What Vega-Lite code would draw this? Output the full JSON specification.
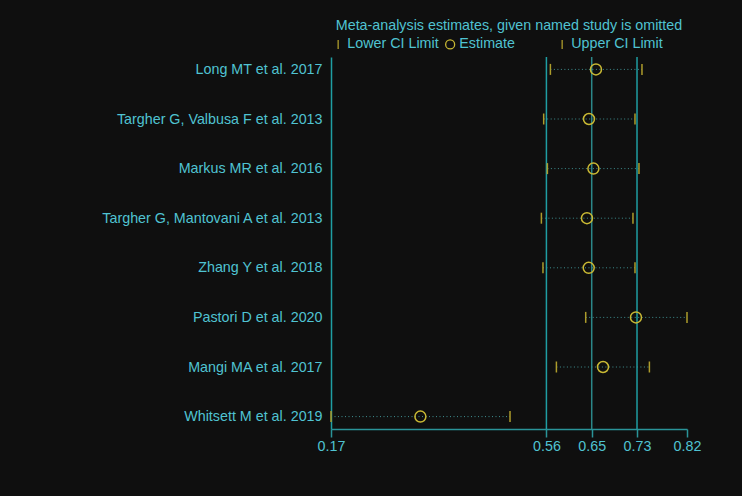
{
  "$schema": "https://vega.github.io/schema/vega-lite/v6.json",
  "width": 356,
  "height": 372,
  "autosize": {"type": "none"},
  "padding": {"left": 331, "top": 57, "right": 55, "bottom": 67},
  "background": "#0f0f0f",
  "title": {
    "text": "Meta-analysis estimates, given named study is omitted",
    "anchor": "middle",
    "frame": "group",
    "fontSize": 14.3,
    "fontWeight": "normal",
    "font": "Liberation Sans",
    "color": "#50c3d2",
    "offset": 4
  },
  "config": {
    "view": {"stroke": null},
    "font": "Liberation Sans"
  },
  "datasets": {
    "studies": [
      {"study": "Long MT et al. 2017", "lo": 0.5713, "est": 0.6548, "hi": 0.7391},
      {"study": "Targher G, Valbusa F et al. 2013", "lo": 0.5590, "est": 0.6420, "hi": 0.7263},
      {"study": "Markus MR et al. 2016", "lo": 0.5658, "est": 0.6501, "hi": 0.7336},
      {"study": "Targher G, Mantovani A et al. 2013", "lo": 0.5548, "est": 0.6383, "hi": 0.7226},
      {"study": "Zhang Y et al. 2018", "lo": 0.5577, "est": 0.6415, "hi": 0.7263},
      {"study": "Pastori D et al. 2020", "lo": 0.6360, "est": 0.7281, "hi": 0.8216},
      {"study": "Mangi MA et al. 2017", "lo": 0.5823, "est": 0.6677, "hi": 0.7527},
      {"study": "Whitsett M et al. 2019", "lo": 0.1693, "est": 0.3331, "hi": 0.4973}
    ],
    "refs": [
      {"v": 0.564, "kind": "limit"},
      {"v": 0.647, "kind": "estimate"},
      {"v": 0.730, "kind": "limit"}
    ]
  },
  "layer": [
    {
      "data": {"name": "refs"},
      "mark": {"type": "rule", "strokeWidth": 1.5},
      "encoding": {
        "x": {"field": "v", "type": "quantitative"},
        "stroke": {
          "condition": {"test": "datum.kind == 'estimate'", "value": "#2b8789"},
          "value": "#1f9ea3"
        }
      }
    },
    {
      "data": {"name": "studies"},
      "mark": {"type": "rule", "strokeWidth": 1, "strokeDash": [1, 2.5], "color": "#3f8f90"},
      "encoding": {
        "y": {"field": "study", "type": "nominal"},
        "x": {"field": "lo", "type": "quantitative"},
        "x2": {"field": "hi"}
      }
    },
    {
      "data": {"name": "studies"},
      "transform": [{"fold": ["lo", "est", "hi"], "as": ["series", "value"]}],
      "mark": {"type": "point", "filled": false, "size": 121, "strokeWidth": 1.5, "opacity": 1},
      "encoding": {
        "y": {"field": "study", "type": "nominal"},
        "x": {"field": "value", "type": "quantitative"},
        "shape": {
          "field": "series",
          "type": "nominal",
          "scale": {"domain": ["lo", "est", "hi"], "range": ["M0,-1L0,1", "circle", "M0,-1L0,1"]},
          "legend": {
            "title": null,
            "orient": "top",
            "direction": "horizontal",
            "columns": 3,
            "gridAlign": "all",
            "columnPadding": 4,
            "labelFontSize": 14.3,
            "labelColor": "#50c3d2",
            "labelFont": "Liberation Sans",
            "symbolSize": 81,
            "symbolStrokeWidth": 1.3,
            "labelOffset": 2,
            "offset": 5,
            "padding": 0,
            "labelExpr": "datum.value == 'lo' ? 'Lower CI Limit' : datum.value == 'est' ? 'Estimate' : 'Upper CI Limit'"
          }
        },
        "stroke": {
          "field": "series",
          "type": "nominal",
          "scale": {"domain": ["lo", "est", "hi"], "range": ["#ad9c2b", "#c9b934", "#ad9c2b"]},
          "legend": {
            "title": null,
            "orient": "top",
            "direction": "horizontal",
            "columns": 3,
            "gridAlign": "all",
            "columnPadding": 4,
            "labelFontSize": 14.3,
            "labelColor": "#50c3d2",
            "labelFont": "Liberation Sans",
            "symbolSize": 81,
            "symbolStrokeWidth": 1.3,
            "labelOffset": 2,
            "offset": 5,
            "padding": 0,
            "labelExpr": "datum.value == 'lo' ? 'Lower CI Limit' : datum.value == 'est' ? 'Estimate' : 'Upper CI Limit'"
          }
        }
      }
    }
  ],
  "encoding": {
    "x": {
      "type": "quantitative",
      "scale": {"domain": [0.1693, 0.8216], "nice": false, "zero": false},
      "axis": {
        "title": null,
        "values": [0.1693, 0.564, 0.647, 0.730, 0.8216],
        "format": ".2f",
        "grid": false,
        "domainColor": "#2a9499",
        "domainWidth": 1.5,
        "tickColor": "#2a9499",
        "tickWidth": 1.5,
        "tickSize": 8,
        "labelColor": "#50c3d2",
        "labelFontSize": 14.3,
        "labelFont": "Liberation Sans",
        "labelPadding": 2,
        "labelFlush": false
      }
    },
    "y": {
      "type": "nominal",
      "sort": null,
      "scale": {"type": "point", "padding": 0.25},
      "axis": {
        "title": null,
        "ticks": false,
        "grid": false,
        "domainColor": "#1f9ea3",
        "domainWidth": 1.5,
        "labelColor": "#50c3d2",
        "labelFontSize": 14.3,
        "labelFont": "Liberation Sans",
        "labelPadding": 9,
        "labelLimit": 400
      }
    }
  }
}
